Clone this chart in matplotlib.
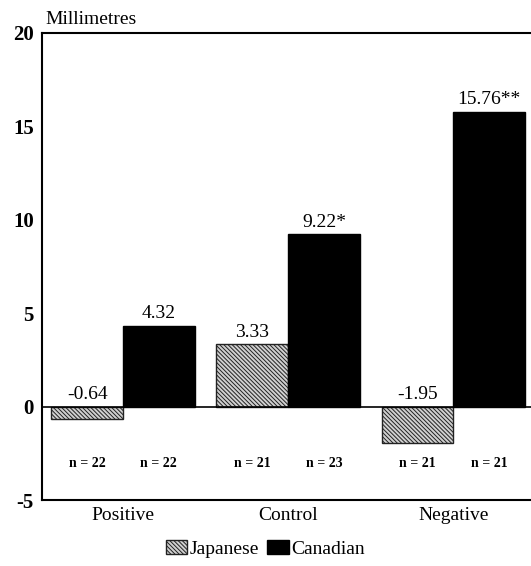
import matplotlib.pyplot as plt
import numpy as np

plt.rcParams['font.family'] = ['Liberation Serif', 'DejaVu Serif']
plt.rcParams['hatch.linewidth'] = 0.7
plt.rcParams['axes.unicode_minus'] = False

conditions = ['Positive', 'Control', 'Negative']
japanese = [-0.64, 3.33, -1.95]
canadian = [4.32, 9.22, 15.76]
jp_labels = ['-0.64', '3.33', '-1.95']
ca_labels = ['4.32', '9.22*', '15.76**']
jp_n = [22, 21, 21]
ca_n = [22, 23, 21]

fig = plt.figure(figsize=(5.31, 5.66), dpi=100)
ax = fig.add_axes([42 / 531, 1 - 500 / 566, 1 - 42 / 531, 467 / 566])

x = np.arange(len(conditions))
w = 0.434
jp_bars = ax.bar(x - w / 2, japanese, w, facecolor='#d0d0d0', edgecolor='#222222',
                 hatch='\\\\\\\\\\\\\\\\', linewidth=1.0, label='Japanese')
ca_bars = ax.bar(x + w / 2, canadian, w, color='black', edgecolor='black',
                 label='Canadian')

for xi, v, lab in zip(x - w / 2, japanese, jp_labels):
    ax.text(xi, max(v, 0) + 0.2, lab, ha='center', va='bottom', fontsize=14)
for xi, v, lab in zip(x + w / 2, canadian, ca_labels):
    ax.text(xi, v + 0.2, lab, ha='center', va='bottom', fontsize=14)

for xi, n in zip(x - w / 2, jp_n):
    ax.text(xi, -3.05, f'n = {n}', ha='center', va='center', fontsize=10, fontweight='bold')
for xi, n in zip(x + w / 2, ca_n):
    ax.text(xi, -3.05, f'n = {n}', ha='center', va='center', fontsize=10, fontweight='bold')

ax.axhline(0, color='black', linewidth=1.2)
ax.set_xlim(-0.49, 2.47)
ax.set_ylim(-5, 20)
ax.set_yticks([-5, 0, 5, 10, 15, 20])
ax.set_xticks(x)
ax.set_xticklabels(conditions, fontsize=14)
ax.tick_params(axis='y', length=0, labelsize=15, pad=6)
ax.tick_params(axis='x', length=0, pad=5)
for t in ax.get_yticklabels():
    t.set_fontweight('bold')
ax.spines['right'].set_visible(False)
for s in ['left', 'top', 'bottom']:
    ax.spines[s].set_linewidth(1.5)

ax.text(0.006, 1.01, 'Millimetres', transform=ax.transAxes, ha='left', va='bottom', fontsize=14)

fig.legend(loc='center', bbox_to_anchor=(0.5, 1 - 549 / 566), ncol=2, frameon=False,
           fontsize=14, handlelength=1.1, handleheight=0.7, handletextpad=0.15,
           columnspacing=0.4, borderpad=0)

fig.savefig('out.png', dpi=100)
